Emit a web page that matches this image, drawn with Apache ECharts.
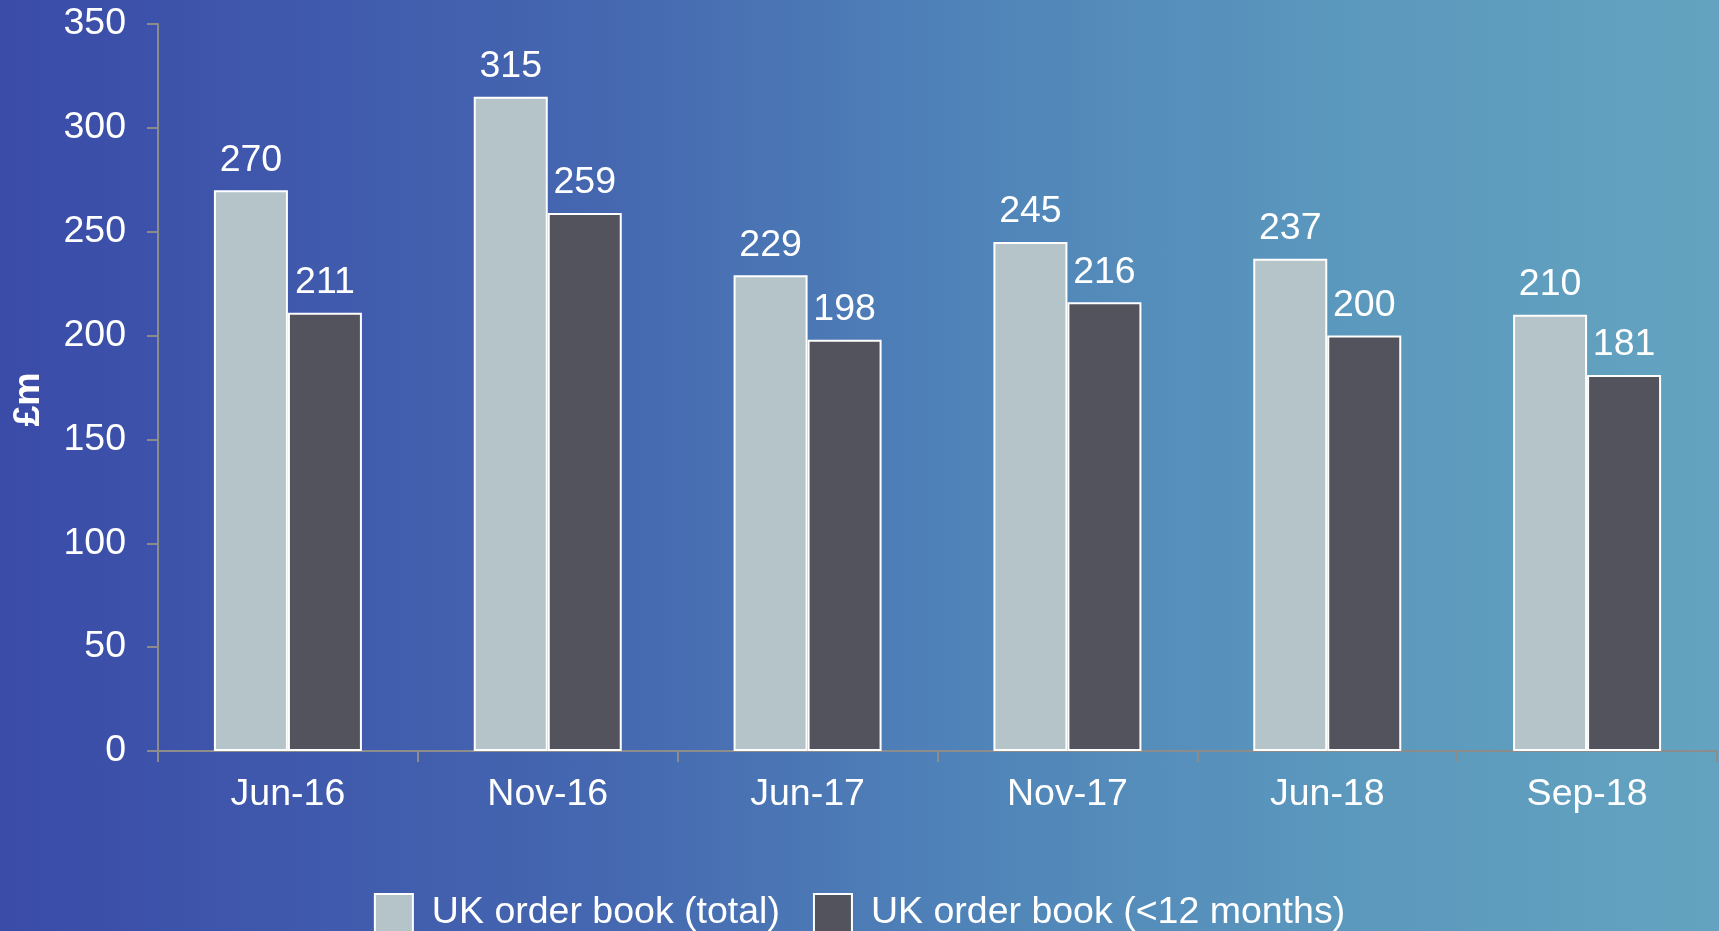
<!DOCTYPE html>
<html>
<head>
<meta charset="utf-8">
<script src="https://cdn.jsdelivr.net/npm/echarts@6/dist/echarts.min.js"></script>
<style>
html,body{margin:0;padding:0;width:1719px;height:931px;overflow:hidden;
background:linear-gradient(to right,#3a4ba8 0%,#4567b0 35%,#4f82b8 55%,#5b98bd 78%,#64a3c0 100%);}
#c{width:1719px;height:931px;}
</style>
</head>
<body>
<div id="c"></div>
<script>
const categories = ['Jun-16','Nov-16','Jun-17','Nov-17','Jun-18','Sep-18'];
const totalValues = [270, 315, 229, 245, 237, 210];
const shortValues = [211, 259, 198, 216, 200, 181];
const seriesNames = ['UK order book (total)', 'UK order book (<12 months)'];
const yTicks = {min: 0, max: 350, interval: 50};

const FONT = '"Liberation Sans", Arial, sans-serif';
const FS = 37.5;
const chart = echarts.init(document.getElementById('c'), null, {renderer: 'canvas'});
const labelStyle = {show: true, position: 'top', distance: 11, color: '#ffffff', fontSize: FS, fontFamily: FONT};
chart.setOption({
  backgroundColor: 'transparent',
  animation: false,
  grid: {left: 158, right: 2, top: 24, bottom: 180, containLabel: false, outerBoundsMode: 'none'},
  legend: {
    top: 888, left: 'center',
    icon: 'rect',
    itemWidth: 38, itemHeight: 38, itemGap: 33,
    textStyle: {color: '#ffffff', fontSize: FS, fontFamily: FONT, padding: [0,0,0,14]},
    data: seriesNames
  },
  xAxis: {
    type: 'category', data: categories,
    axisLine: {lineStyle: {color: '#8c8c8c', width: 2}},
    axisTick: {show: true, length: 11, alignWithLabel: false, lineStyle: {color: '#8c8c8c', width: 2}},
    axisLabel: {color: '#ffffff', fontSize: FS, fontFamily: FONT, margin: 25}
  },
  yAxis: {
    type: 'value', min: yTicks.min, max: yTicks.max, interval: yTicks.interval,
    name: '£m', nameLocation: 'middle', nameGap: 110, nameRotate: 90,
    nameTextStyle: {color: '#ffffff', fontSize: FS, fontWeight: 'bold', fontFamily: FONT, padding: [0, 24, 0, 0]},
    axisLine: {show: true, lineStyle: {color: '#8c8c8c', width: 2}},
    axisTick: {show: true, length: 11, lineStyle: {color: '#8c8c8c', width: 2}},
    axisLabel: {color: '#ffffff', fontSize: FS, fontFamily: FONT, margin: 32},
    splitLine: {show: false}
  },
  series: [
    {name: seriesNames[0], type: 'bar', data: totalValues, barWidth: 74, barGap: '0%',
     itemStyle: {color: '#b4c4c9', borderColor: '#ffffff', borderWidth: 2},
     label: labelStyle},
    {name: seriesNames[1], type: 'bar', data: shortValues, barWidth: 74,
     itemStyle: {color: '#53535d', borderColor: '#ffffff', borderWidth: 2},
     label: labelStyle}
  ]
});
</script>
</body>
</html>
